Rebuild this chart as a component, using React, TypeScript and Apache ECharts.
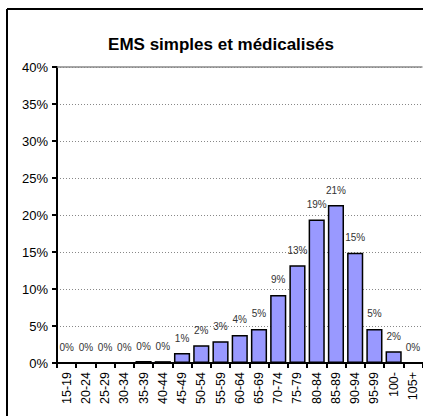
import React, { useEffect, useRef } from "react";
import * as echarts from "echarts";

const categories = ["15-19","20-24","25-29","30-34","35-39","40-44","45-49","50-54","55-59","60-64","65-69","70-74","75-79","80-84","85-89","90-94","95-99","100-","105+"];
const values = [0, 0, 0, 0, 0.27, 0.25, 1.35, 2.4, 2.95, 3.8, 4.6, 9.2, 13.2, 19.4, 21.35, 14.9, 4.6, 1.6, 0.05];
const yTicks = [0, 5, 10, 15, 20, 25, 30, 35, 40];
const title = "EMS simples et médicalisés";

export default function App() {
  const ref = useRef<HTMLDivElement>(null);
  useEffect(() => {
    if (!ref.current) return;
    document.body.style.margin = "0";
    document.body.style.overflow = "hidden";
    const chart = echarts.init(ref.current, null, { renderer: "svg" });
    chart.setOption({
      animation: false,
      backgroundColor: "#fff",
      title: {
        text: title,
        left: 216,
        top: 31,
        textAlign: "center",
        textStyle: { fontFamily: "Liberation Sans, Arial, sans-serif", fontSize: 17, fontWeight: "bold", color: "#000" },
      },
      graphic: [
        {
          type: "line",
          shape: { x1: 7, y1: 9, x2: 423, y2: 9 },
          style: { stroke: "#000", lineWidth: 2 },
          silent: true,
          z: 100,
        },
        {
          type: "line",
          shape: { x1: 7, y1: 9, x2: 7, y2: 416 },
          style: { stroke: "#000", lineWidth: 2 },
          silent: true,
          z: 100,
        },
      ],
      grid: { left: 57, right: 0.5, top: 67, bottom: 53, containLabel: false },
      xAxis: {
        type: "category",
        data: categories,
        axisLine: { lineStyle: { color: "#000", width: 2 } },
        axisTick: { show: true, length: 5, lineStyle: { color: "#000", width: 2 } },
        axisLabel: {
          rotate: 90,
          interval: 0,
          margin: 9,
          fontFamily: "Liberation Sans, Arial, sans-serif",
          fontSize: 12.5,
          color: "#000",
        },
      },
      yAxis: {
        type: "value",
        min: yTicks[0],
        max: yTicks[yTicks.length - 1],
        interval: 5,
        axisLine: { show: true, lineStyle: { color: "#000", width: 2 } },
        axisTick: { show: true, length: 5, lineStyle: { color: "#000", width: 2 } },
        axisLabel: {
          formatter: "{value}%",
          margin: 9,
          fontFamily: "Liberation Sans, Arial, sans-serif",
          fontSize: 13,
          color: "#000",
        },
        splitLine: { show: true, lineStyle: { color: "#888", type: [1, 2], width: 1 } },
      },
      series: [
        {
          type: "bar",
          data: values,
          barCategoryGap: "16%",
          itemStyle: { color: "#9999FF", borderColor: "#000", borderWidth: 1.5 },
          label: {
            show: true,
            position: "top",
            distance: 10,
            formatter: (p: any) => Math.round(p.value) + "%",
            fontFamily: "Liberation Sans, Arial, sans-serif",
            fontSize: 10,
            color: "#333",
          },
          markLine: {
            silent: true,
            symbol: "none",
            label: { show: false },
            lineStyle: { color: "#888", type: "solid", width: 1.5 },
            data: [{ yAxis: yTicks[yTicks.length - 1] }],
          },
        },
      ],
    });
    return () => chart.dispose();
  }, []);
  return <div ref={ref} style={{ position: "absolute", left: 0, top: 0, width: 423, height: 416 }} />;
}
